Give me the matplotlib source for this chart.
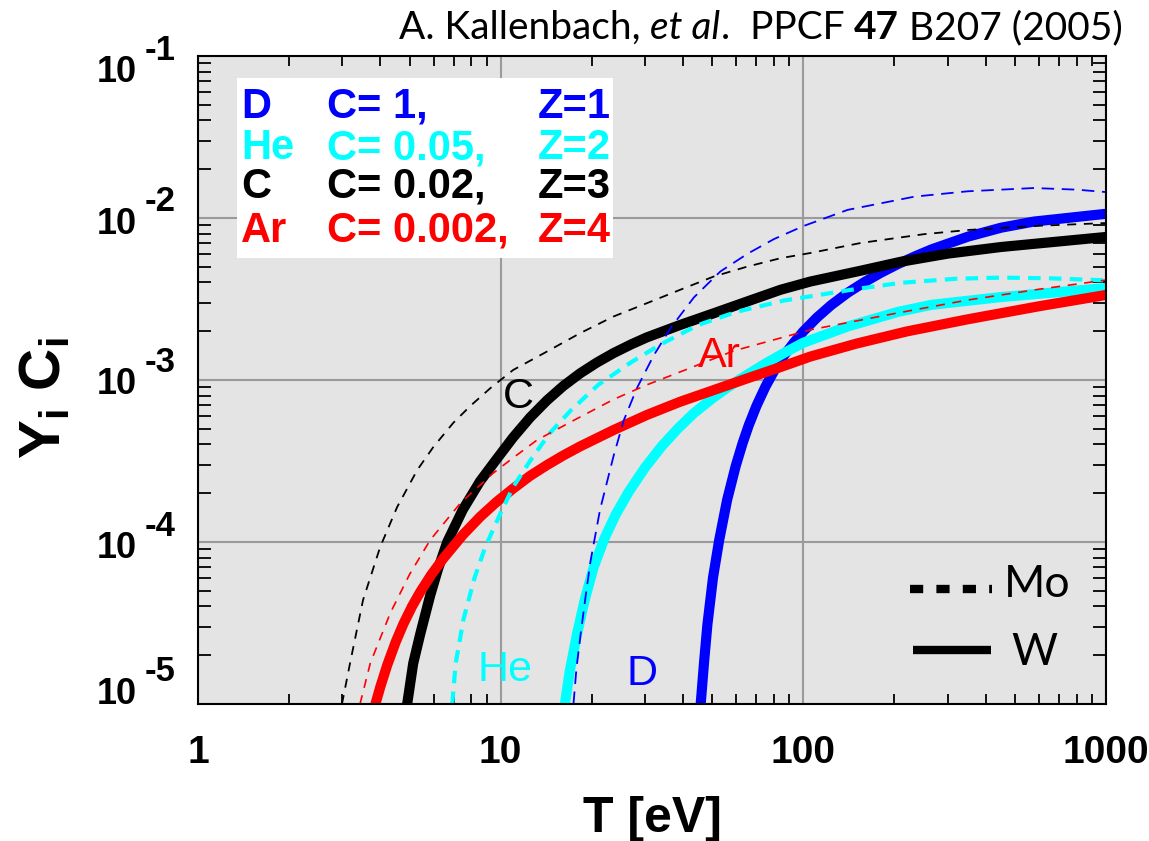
import matplotlib
matplotlib.use('Agg')
import matplotlib.pyplot as plt
import numpy as np

plt.rcParams['lines.scale_dashes'] = False
plt.rcParams['mathtext.fontset'] = 'custom'
plt.rcParams['mathtext.rm'] = 'Liberation Sans'
plt.rcParams['mathtext.bf'] = 'Liberation Sans:bold'
plt.rcParams['mathtext.it'] = 'Liberation Sans:italic'
plt.rcParams['font.family'] = ['Liberation Sans', 'DejaVu Sans']

# ---------------- data ----------------
species = ['D', 'He', 'C', 'Ar']
colors = ['#0000ff', '#00ffff', '#000000', '#ff0000']
conc_labels = ['C= 1,', 'C= 0.05,', 'C= 0.02,', 'C= 0.002,']
z_labels = ['Z=1', 'Z=2', 'Z=3', 'Z=4']

# W (solid) curves: T [eV] and log10(Y*C)
W_D_T = [45.8, 47, 48.2, 50.3, 52.7, 56, 59.8, 63, 66, 70, 75, 80, 86, 93, 100, 111, 123.5, 140, 159,
         180, 205, 235, 265, 350, 450, 578, 1000]
W_D_logY = [-5.0, -4.74, -4.51, -4.22, -3.99, -3.74, -3.53, -3.39, -3.28, -3.16, -3.04, -2.945, -2.853,
            -2.77, -2.70, -2.614, -2.538, -2.462, -2.396, -2.339, -2.285, -2.235, -2.194, -2.115,
            -2.06, -2.022, -1.974]

W_He_T = [16.3, 16.9, 17.9, 19.0, 20.3, 22, 24, 26.5, 30, 34, 38.5, 43.4, 50, 56, 62, 75, 87, 100,
          140, 205, 265, 450, 1000]
W_He_logY = [-5.0, -4.8, -4.562, -4.35, -4.154, -3.98, -3.83, -3.69, -3.54, -3.41, -3.30, -3.206,
             -3.114, -3.048, -2.993, -2.898, -2.83, -2.77, -2.67, -2.58, -2.536, -2.488, -2.432]

W_C_T = [4.91, 5.14, 5.42, 5.85, 6.2, 6.66, 7.5, 8.55, 9.7, 11.0, 12.5, 14.2, 16.1, 18.3, 20.8, 23.6,
         27, 30.4, 39.2, 50.6, 65.3, 84.1, 105.6, 155, 210, 300, 450, 1000]
W_C_logY = [-5.0, -4.75, -4.57, -4.33, -4.17, -4.0, -3.80, -3.625, -3.488, -3.354, -3.232, -3.127,
            -3.037, -2.959, -2.892, -2.834, -2.78, -2.737, -2.66, -2.588, -2.515, -2.443, -2.392,
            -2.325, -2.27, -2.22, -2.179, -2.117]

W_Ar_T = [3.79, 4.0, 4.22, 4.5, 4.77, 5.1, 5.42, 5.9, 6.46, 7.5, 8.55, 9.7, 11.0, 12.5, 14.2, 16.1,
          18.3, 23.6, 30.4, 39.2, 50.6, 65.3, 84.1, 105.6, 150, 220, 350, 600, 1000]
W_Ar_logY = [-5.05, -4.896, -4.759, -4.617, -4.506, -4.396, -4.309, -4.202, -4.102, -3.956, -3.845,
             -3.752, -3.67, -3.592, -3.526, -3.466, -3.41, -3.309, -3.216, -3.134, -3.062, -2.99,
             -2.92, -2.855, -2.775, -2.70, -2.625, -2.545, -2.475]

# Mo (dashed) curves
Mo_D_T = [17.4, 17.8, 18.4, 19.1, 19.8, 21.3, 23.6, 25.5, 28.2, 32.0, 36.4, 43.5, 53.2, 65.5, 80, 100,
          140, 233, 350, 578, 800, 1000]
Mo_D_logY = [-5.0, -4.78, -4.56, -4.33, -4.12, -3.80, -3.47, -3.25, -3.05, -2.85, -2.68, -2.49, -2.33,
             -2.22, -2.13, -2.05, -1.95, -1.868, -1.835, -1.815, -1.825, -1.84]

Mo_He_T = [6.92, 7.1, 7.53, 8.2, 8.9, 10.0, 11.0, 12.5, 14.5, 17.0, 21, 27, 33.8, 45, 60, 86, 143, 210,
           320, 450, 650, 850, 1000]
Mo_He_logY = [-5.0, -4.75, -4.48, -4.22, -4.03, -3.82, -3.66, -3.5, -3.33, -3.19, -3.03, -2.89, -2.78,
              -2.66, -2.58, -2.51, -2.444, -2.40, -2.375, -2.368, -2.372, -2.38, -2.385]

Mo_C_T = [2.99, 3.18, 3.51, 4.0, 4.55, 5.3, 5.99, 6.97, 7.94, 9.25, 11.0, 14.2, 18.3, 23.6, 30.4, 39.2,
          50.6, 65.3, 84.1, 105.6, 155, 250, 350, 600, 1000]
Mo_C_logY = [-5.0, -4.747, -4.358, -4.03, -3.784, -3.556, -3.414, -3.265, -3.16, -3.05, -2.938, -2.825,
             -2.711, -2.608, -2.526, -2.443, -2.361, -2.30, -2.248, -2.216, -2.154, -2.10, -2.074,
             -2.048, -2.031]

Mo_Ar_T = [3.43, 3.71, 4.32, 5.0, 5.85, 7.36, 9.46, 11.0, 13.2, 17.4, 23.6, 30.4, 39.2, 58.9, 105.6,
           200, 350, 600, 1000]
Mo_Ar_logY = [-5.0, -4.747, -4.438, -4.2, -3.988, -3.76, -3.574, -3.48, -3.37, -3.25, -3.12, -3.03,
              -2.95, -2.82, -2.69, -2.59, -2.506, -2.44, -2.383]

W_T = [W_D_T, W_He_T, W_C_T, W_Ar_T]
W_logY = [W_D_logY, W_He_logY, W_C_logY, W_Ar_logY]
Mo_T = [Mo_D_T, Mo_He_T, Mo_C_T, Mo_Ar_T]
Mo_logY = [Mo_D_logY, Mo_He_logY, Mo_C_logY, Mo_Ar_logY]

x_ticks = [1, 10, 100, 1000]
x_ticklabels = ['1', '10', '100', '1000']
y_ticks = [1e-1, 1e-2, 1e-3, 1e-4, 1e-5]
y_tick_exponents = ['-1', '-2', '-3', '-4', '-5']
y_label_dy_px = [-13, -2, -1, -3, 14]   # vertical offset of the label's "10" from its tick

# in-plot curve labels (species name, T, Y)
curve_labels = [('C', 11.4, 7.85e-4, '#000000'), ('Ar', 52.6, 1.41e-3, '#ff0000'),
                ('He', 10.35, 1.62e-5, '#00ffff'), ('D', 29.4, 1.53e-5, '#0000ff')]

# ---------------- figure ----------------
W, H = 1149, 841
PT = 0.72  # points per pixel at 100 dpi
fig = plt.figure(figsize=(W / 100, H / 100), dpi=100)
ax = fig.add_axes([198 / W, 1 - 704 / H, 908 / W, 648 / H])
ax.set_facecolor('#e4e4e4')
ax.set_xscale('log')
ax.set_yscale('log')
ax.set_xlim(1, 1000)
ax.set_ylim(1e-5, 1e-1)

ax.grid(True, which='major', color='#9a9a9a', lw=1.5, zorder=0)
ax.set_axisbelow(True)

dash_styles = {'D': (9, 5.5), 'He': (9, 6), 'C': (6.5, 5.5), 'Ar': (6.5, 5.5)}
dash_lw = {'D': 1.3, 'He': 3.0, 'C': 1.3, 'Ar': 1.2}
for i, sp in enumerate(species):
    ax.plot(W_T[i], 10 ** np.array(W_logY[i]), color=colors[i], lw=7.3,
            solid_capstyle='butt', solid_joinstyle='round', zorder=3)
    ax.plot(Mo_T[i], 10 ** np.array(Mo_logY[i]), color=colors[i], lw=dash_lw[sp],
            linestyle=(0, dash_styles[sp]), dash_capstyle='butt', zorder=4)

for name, tx, ty, c in curve_labels:
    ax.text(tx, ty, name, color=c, fontsize=31, ha='center', va='center', zorder=5)

# ticks
ax.set_xticks(x_ticks)
ax.set_xticklabels(x_ticklabels, fontsize=28, fontweight='bold')
ax.tick_params(axis='x', which='major', length=0, pad=22)
ax.set_yticks(y_ticks)
ax.set_yticklabels([])
ax.tick_params(axis='y', which='major', length=0)
ax.tick_params(axis='x', which='minor', direction='in', length=7.5, width=1.3,
               top=True, bottom=True)
ax.tick_params(axis='y', which='minor', direction='in', length=9.5, width=1.3,
               left=True, right=True)
ax.yaxis.set_minor_locator(matplotlib.ticker.LogLocator(base=10, subs=np.arange(2, 10), numticks=20))
ax.xaxis.set_minor_locator(matplotlib.ticker.LogLocator(base=10, subs=np.arange(2, 10), numticks=20))
ax.yaxis.set_minor_formatter(matplotlib.ticker.NullFormatter())
ax.xaxis.set_minor_formatter(matplotlib.ticker.NullFormatter())
for sp_ in ax.spines.values():
    sp_.set_linewidth(1.5)
    sp_.set_zorder(6)

# y tick labels: "10" with a large superscript exponent
for yt, ex, dy in zip(y_ticks, y_tick_exponents, y_label_dy_px):
    ax.annotate('10', xy=(0, yt), xycoords=('axes fraction', 'data'),
                xytext=(-61 * PT, dy * PT), textcoords='offset points',
                ha='right', va='center_baseline', fontsize=26, fontweight='bold',
                annotation_clip=False)
    ax.annotate(ex, xy=(0, yt), xycoords=('axes fraction', 'data'),
                xytext=(-53 * PT, (dy + 22) * PT), textcoords='offset points',
                ha='left', va='center_baseline', fontsize=25, fontweight='bold',
                annotation_clip=False)

ax.set_xlabel('T [eV]', fontsize=36, fontweight='bold', labelpad=18)
fig.text(45 / W, 1 - 398 / H, r'$\mathbf{Y_i\ C_i}$', rotation=90, fontsize=42,
         ha='center', va='center')

# concentration legend box
ax.add_patch(plt.Rectangle((0.043, 0.688), 0.414, 0.278, transform=ax.transAxes,
                           facecolor='white', edgecolor='none', zorder=7))
row_px = [107, 148, 187, 231]
row_y = [(704 - r) / 648 for r in row_px]
col_x = [(241 - 198) / 908, (327 - 198) / 908, (538 - 198) / 908]
for i in range(4):
    for xcol, txt in zip(col_x, [species[i], conc_labels[i], z_labels[i]]):
        ax.text(xcol, row_y[i], txt, transform=ax.transAxes, color=colors[i],
                fontsize=30, fontweight='bold', ha='left', va='center', zorder=8)

# Mo / W line style key
ax.plot([0.784, 0.874], [0.1775, 0.1775], transform=ax.transAxes, color='black',
        lw=6, linestyle=(0, (9.5, 9.5)), dash_capstyle='butt', zorder=8)
ax.plot([0.787, 0.873], [0.0833, 0.0833], transform=ax.transAxes, color='black',
        lw=6, solid_capstyle='butt', zorder=8)
ax.text(0.888, 0.184, 'Mo', transform=ax.transAxes, fontsize=32, family='Lato',
        ha='left', va='center', zorder=8)
ax.text(0.8955, 0.080, 'W', transform=ax.transAxes, fontsize=32, family='Lato',
        ha='left', va='center', zorder=8)

# citation title with mixed styles
pieces = [('A. Kallenbach, ', 'normal', 'normal'), ('et al', 'italic', 'normal'),
          ('.  PPCF ', 'normal', 'normal'), ('47', 'normal', 'bold'),
          (' B207 (2005)', 'normal', 'normal')]
renderer = fig.canvas.get_renderer()
texts = []
for s, style, weight in pieces:
    t = fig.text(0, 1 - 39 / H, s, fontsize=28, family='Lato', style=style,
                 weight=weight, ha='left', va='baseline')
    texts.append(t)
widths = [t.get_window_extent(renderer).width for t in texts]
x0 = 1123 - sum(widths)
for t, w in zip(texts, widths):
    t.set_x(x0 / W)
    x0 += w

fig.savefig('out.png', dpi=100)
